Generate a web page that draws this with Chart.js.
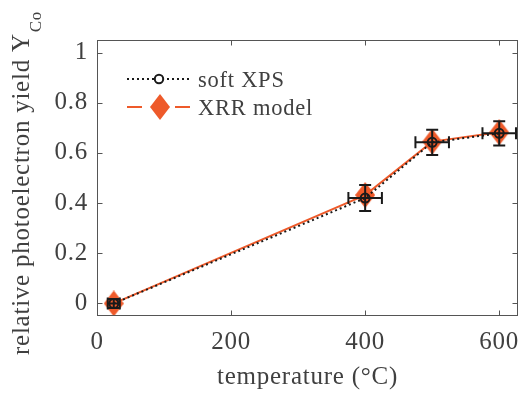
<!DOCTYPE html>
<html><head><meta charset="utf-8">
<script src="https://cdn.jsdelivr.net/npm/chart.js@4/dist/chart.umd.min.js"></script>
<style>html,body{margin:0;padding:0;background:#fff}#wrap{width:519px;height:395px}</style>
</head><body><div id="wrap"><canvas id="c" width="519" height="395"></canvas></div>
<script>
// ---- data ----
const temperatures = [25, 400, 500, 600];
const xpsYield   = [0, 0.42, 0.642, 0.678];
const xpsYErr    = [0.018, 0.052, 0.05, 0.048];
const xpsTempErr = [9, 25, 25, 25];
const xrrYield   = [0, 0.432, 0.645, 0.682];
const xTicks = [0, 200, 400, 600];
const yTicks = [0, 0.2, 0.4, 0.6, 0.8, 1];
const seriesNames = ['soft XPS', 'XRR model'];
const xLabel = 'temperature (\u00B0C)';
const yLabelMain = 'relative photoelectron yield Y';
const yLabelSub = 'Co';

// ---- styles ----
const ORANGE = '#EE5A2A';
const BLACK = '#1a1a1a';
const TEXT = '#404040';
const AXIS = '#555555';
const FONT = "'Liberation Serif', 'Times New Roman', serif";

function makeDiamond(w, h, color) {
  const cv = document.createElement('canvas');
  cv.width = w; cv.height = h;
  const g = cv.getContext('2d');
  g.fillStyle = color;
  g.beginPath();
  g.moveTo(w / 2, 0); g.lineTo(w, h / 2); g.lineTo(w / 2, h); g.lineTo(0, h / 2);
  g.closePath(); g.fill();
  return cv;
}
const diamond = makeDiamond(20, 26, ORANGE);

const xpsData = temperatures.map((t, i) => ({ x: t, y: xpsYield[i] }));
const xrrData = temperatures.map((t, i) => ({ x: t, y: xrrYield[i] }));

const spacingPlugin = {
  id: 'spacing',
  beforeDraw(chart) { try { chart.ctx.letterSpacing = '0.75px'; } catch (e) {} }
};

const errorBarPlugin = {
  id: 'errorBars',
  afterDatasetDraw(chart, args) {
    if (args.index !== 1) return; // draw after XRR, below XPS markers
    const xs = chart.scales.x, ys = chart.scales.y, ctx = chart.ctx;
    const cap = 6;
    ctx.save();
    ctx.strokeStyle = BLACK; ctx.lineWidth = 2; ctx.setLineDash([]);
    temperatures.forEach((t, i) => {
      const px = xs.getPixelForValue(t), py = ys.getPixelForValue(xpsYield[i]);
      const y1 = ys.getPixelForValue(xpsYield[i] + xpsYErr[i]);
      const y2 = ys.getPixelForValue(xpsYield[i] - xpsYErr[i]);
      const x1 = xs.getPixelForValue(t - xpsTempErr[i]);
      const x2 = xs.getPixelForValue(t + xpsTempErr[i]);
      ctx.beginPath();
      ctx.moveTo(px, y1); ctx.lineTo(px, y2);
      ctx.moveTo(px - cap, y1); ctx.lineTo(px + cap, y1);
      ctx.moveTo(px - cap, y2); ctx.lineTo(px + cap, y2);
      ctx.moveTo(x1, py); ctx.lineTo(x2, py);
      ctx.moveTo(x1, py - cap); ctx.lineTo(x1, py + cap);
      ctx.moveTo(x2, py - cap); ctx.lineTo(x2, py + cap);
      ctx.stroke();
    });
    ctx.restore();
  }
};

const framePlugin = {
  id: 'frame',
  afterDraw(chart) {
    const { ctx, chartArea: a } = chart;
    const xs = chart.scales.x, ys = chart.scales.y;
    ctx.save();
    ctx.strokeStyle = AXIS; ctx.lineWidth = 1; ctx.setLineDash([]);
    const L = Math.round(a.left) + 0.5, R = Math.round(a.right) - 0.5;
    const T = Math.round(a.top) + 0.5, B = Math.round(a.bottom) - 0.5;
    ctx.strokeRect(L, T, R - L, B - T);
    const tl = 5;
    ctx.beginPath();
    xTicks.forEach(v => {
      const p = Math.round(xs.getPixelForValue(v)) + 0.5;
      ctx.moveTo(p, B); ctx.lineTo(p, B - tl);
      ctx.moveTo(p, T); ctx.lineTo(p, T + tl);
    });
    yTicks.forEach(v => {
      const p = Math.round(ys.getPixelForValue(v)) + 0.5;
      ctx.moveTo(L, p); ctx.lineTo(L + tl, p);
      ctx.moveTo(R, p); ctx.lineTo(R - tl, p);
    });
    ctx.stroke();

    // y-axis title with subscript
    ctx.fillStyle = TEXT;
    ctx.translate(29, 355);
    ctx.rotate(-Math.PI / 2);
    ctx.textAlign = 'left'; ctx.textBaseline = 'alphabetic';
    ctx.font = '25px ' + FONT;
    ctx.fillText(yLabelMain, 0, 0);
    const w = ctx.measureText(yLabelMain).width;
    ctx.font = '17px ' + FONT;
    ctx.fillText(yLabelSub, w + 1, 12);
    ctx.restore();

    // legend
    ctx.save();
    ctx.font = '22.5px ' + FONT;
    ctx.fillStyle = TEXT; ctx.textBaseline = 'alphabetic'; ctx.textAlign = 'left';
    // soft XPS
    ctx.strokeStyle = BLACK; ctx.lineWidth = 2; ctx.setLineDash([2, 3]);
    ctx.beginPath(); ctx.moveTo(127, 79); ctx.lineTo(189, 79); ctx.stroke();
    ctx.setLineDash([]);
    ctx.fillStyle = '#fff';
    ctx.beginPath(); ctx.arc(159, 79, 4.2, 0, Math.PI * 2); ctx.fill(); ctx.stroke();
    ctx.fillStyle = TEXT;
    ctx.fillText(seriesNames[0], 198, 87);
    // XRR model
    ctx.strokeStyle = ORANGE; ctx.lineWidth = 2;
    ctx.beginPath(); ctx.moveTo(127, 107); ctx.lineTo(142, 107);
    ctx.moveTo(175, 107); ctx.lineTo(190, 107); ctx.stroke();
    ctx.drawImage(diamond, 160 - 10, 107 - 13);
    ctx.fillText(seriesNames[1], 198, 115);
    ctx.restore();
  }
};

new Chart(document.getElementById('c'), {
  type: 'scatter',
  data: {
    datasets: [
      {
        label: seriesNames[0], data: xpsData, showLine: true,
        borderColor: BLACK, borderWidth: 2, borderDash: [2, 3],
        pointStyle: 'circle', pointRadius: 4.5, pointBorderWidth: 2,
        pointBorderColor: BLACK, pointBackgroundColor: 'rgba(0,0,0,0)',
        backgroundColor: 'rgba(0,0,0,0)', tension: 0
      },
      {
        label: seriesNames[1], data: xrrData, showLine: true,
        borderColor: ORANGE, borderWidth: 2,
        pointStyle: diamond, pointRadius: 12,
        backgroundColor: ORANGE, tension: 0
      }
    ]
  },
  options: {
    responsive: false, animation: false, devicePixelRatio: 1,
    layout: { autoPadding: false, padding: { top: 40, right: 1, left: 0, bottom: 0 } },
    plugins: { legend: { display: false }, tooltip: { enabled: false } },
    scales: {
      x: {
        type: 'linear', min: 0, max: 628,
        grid: { display: false, drawTicks: false }, border: { display: false },
        ticks: { padding: 11, color: TEXT, font: { family: FONT, size: 25 }, maxRotation: 0 },
        title: { display: true, text: xLabel, color: TEXT, font: { family: FONT, size: 25 }, padding: { top: 0, bottom: 3 } },
        afterBuildTicks: s => { s.ticks = xTicks.map(v => ({ value: v })); },
        afterFit: s => { s.height = 79; s.paddingLeft = 0; s.paddingRight = 0; }
      },
      y: {
        type: 'linear', min: -0.05, max: 1.05,
        grid: { display: false, drawTicks: false }, border: { display: false },
        ticks: { padding: 9, color: TEXT, font: { family: FONT, size: 25 },
                 callback: v => String(Math.round(v * 100) / 100) },
        afterBuildTicks: s => { s.ticks = yTicks.map(v => ({ value: v })); },
        afterFit: s => { s.width = 97; s.paddingTop = 0; s.paddingBottom = 0; }
      }
    }
  },
  plugins: [spacingPlugin, errorBarPlugin, framePlugin]
});
</script>
</body></html>
